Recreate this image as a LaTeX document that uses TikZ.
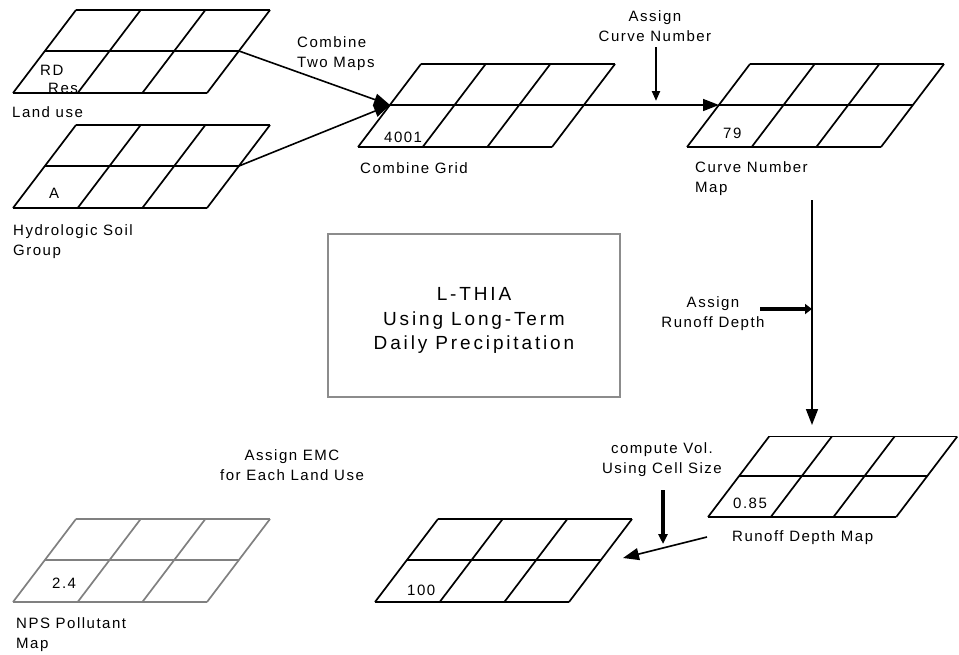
\documentclass[tikz,border=0pt]{standalone}
\usepackage{fontspec}
\setmainfont{Liberation Sans}
\usetikzlibrary{arrows.meta,positioning,calc}

\tikzset{
  gridline/.style={line width=1.7pt,line join=round},
  mapgrid/.pic={
    \draw[gridline] (0,0) -- (194,0);
    \draw[gridline] (32,-42) -- (226,-42);
    \draw[gridline] (63,-83) -- (257,-83);
    \foreach \i in {0,1,2,3}
      \draw[gridline] ({\i*64.67},0) -- ({\i*64.67+63},-83);
    \coordinate (-ml) at (32,-42);
    \coordinate (-mr) at (226,-42);
  },
  lbl/.style={font=\fontsize{15}{19.5}\selectfont\addfontfeature{LetterSpace=10},inner sep=0pt},
  flow/.style={line width=1.6pt,-{Triangle[length=16pt,width=12pt]}},
  cue/.style={line width=2.2pt,-{Triangle[length=10pt,width=8pt]}},
}

\begin{document}
\begin{tikzpicture}[x=1pt,y=-1pt]
  \useasboundingbox (0,0) rectangle (959,654);

  % grids
  \pic (lu) at (13,93) {mapgrid};
  \pic (sg) at (13,208) {mapgrid};
  \pic (cg) at (358,147) {mapgrid};
  \pic (cn) at (687,147) {mapgrid};
  \pic[scale=.97] (rdm) at (708,517) {mapgrid};
  \pic (vol) at (375,602) {mapgrid};
  \pic[black!50] (nps) at (13,602) {mapgrid};

  % cell values and map names
  \node[lbl,anchor=base west] (rd) at (40,75) {RD};
  \node[lbl,anchor=base west] (res) at (48,93) {Res};
  \node[lbl,anchor=base west] (lutxt) at (12,117) {Land use};
  \node[lbl,anchor=base west] (a) at (49,198) {A};
  \node[lbl,anchor=base west,align=left] (sgtxt) at (13,255) {Hydrologic Soil\\Group};
  \node[lbl,anchor=base west] (cgval) at (384,142) {4001};
  \node[lbl,anchor=base west] (cgtxt) at (360,173) {Combine Grid};
  \node[lbl,anchor=base west] (cnval) at (723,138) {79};
  \node[lbl,anchor=base west,align=left] (cntxt) at (695,192) {Curve Number\\Map};
  \node[lbl,anchor=base west] (rdval) at (733,508) {0.85};
  \node[lbl,anchor=base west] (rdtxt) at (732,541) {Runoff Depth Map};
  \node[lbl,anchor=base west] (volval) at (407,595) {100};
  \node[lbl,anchor=base west] (npsval) at (52,588) {2.4};
  \node[lbl,anchor=base west,align=left] (npstxt) at (16,648) {NPS Pollutant\\Map};

  % step labels
  \node[lbl,anchor=base west,align=left] (ctm) at (297,67) {Combine\\Two Maps};
  \node[lbl,anchor=base,align=center] (acn) at (655,41) {Assign\\Curve Number};
  \node[lbl,anchor=base,align=center] (ard) at (713,327) {Assign\\Runoff Depth};
  \node[lbl,anchor=base,align=center] (cvol) at (662,473) {compute Vol.\\Using Cell Size};
  \node[lbl,anchor=base,align=center] (emc) at (292,480) {Assign EMC\\for Each Land Use};

  % title box
  \node[draw=black!45,line width=1.2pt,minimum width=292pt,minimum height=163pt]
    (lthia) at (474,315.5) {};
  \node[align=center,inner sep=0pt,font=\fontsize{19}{24.5}\selectfont\addfontfeature{LetterSpace=15}]
    (lthiatxt) at ([yshift=-5pt]lthia.center) {L-THIA\\Using Long-Term\\Daily Precipitation};

  % connectors
  \coordinate (acnstart) at (656,47);
  \coordinate (cnout) at (812,200);
  \coordinate (rdin) at (812,425);
  \coordinate (ardstart) at (760,309);
  \coordinate (rdout) at (707,537);
  \coordinate (volin) at (623,558);
  \coordinate (cvstart) at (663,490);
  \coordinate (cvend) at (663,544);

  \draw[flow] (lu-mr) -- (cg-ml);
  \draw[flow] (sg-mr) -- (cg-ml);
  \draw[flow] (cg-mr) -- (cn-ml);
  \draw[cue,shorten >=4pt] (acnstart) -- (acnstart |- cg-mr);
  \draw[flow] (cnout) -- (rdin);
  \draw[cue,line width=4.5pt,-{Triangle[length=7pt,width=10pt]}] (ardstart) -- (ardstart -| cnout);
  \draw[flow] (rdout) -- (volin);
  \draw[cue,line width=3.5pt,-{Triangle[length=10pt,width=9pt]}] (cvstart) -- (cvend);
\end{tikzpicture}
\end{document}
